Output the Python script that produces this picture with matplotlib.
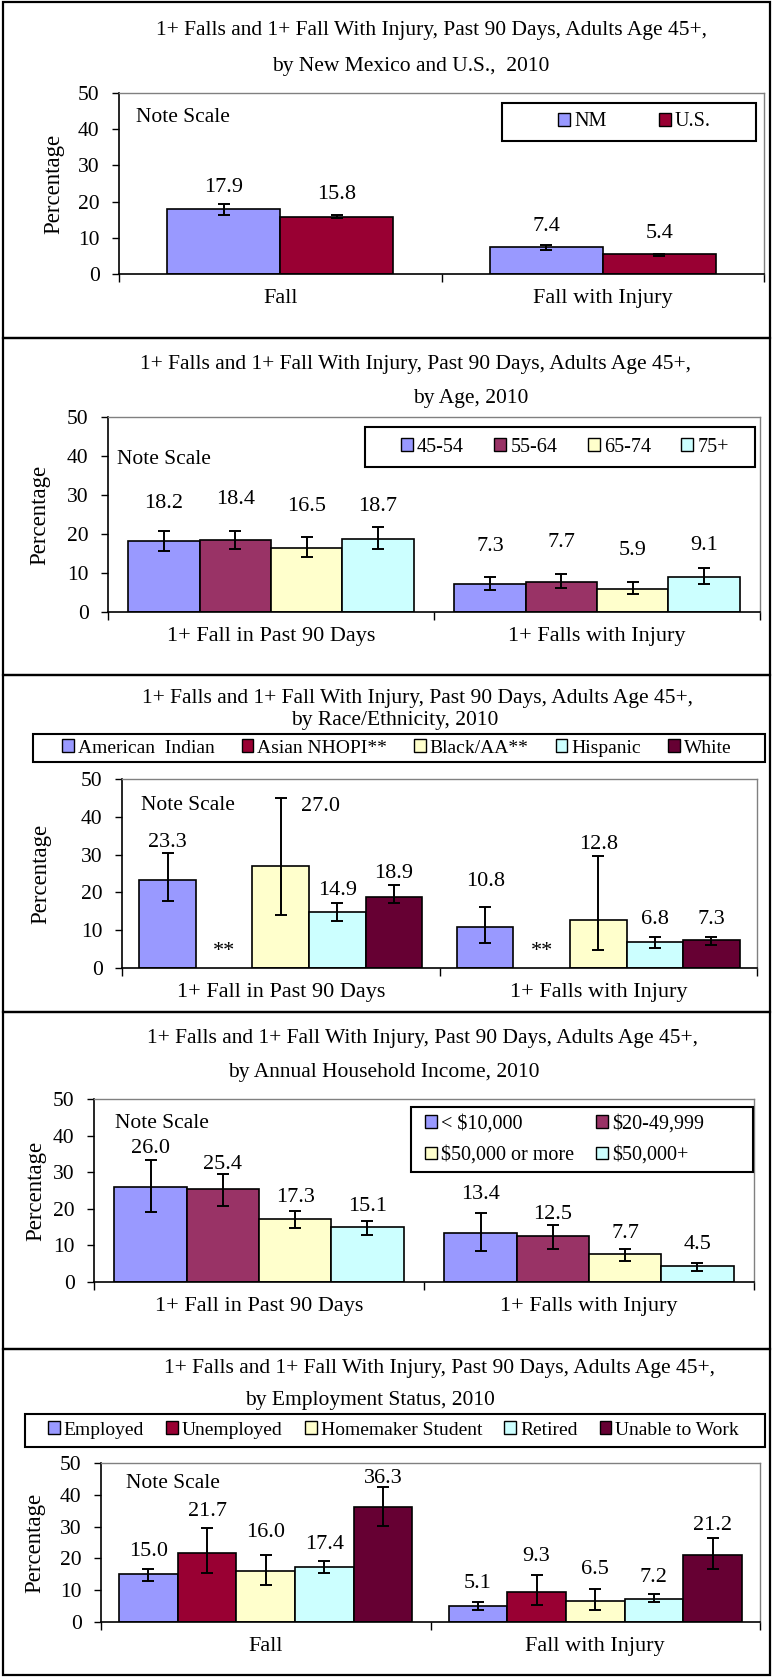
import numpy as np
import matplotlib
matplotlib.use("Agg")
import matplotlib.pyplot as plt
from matplotlib.patches import Patch, Rectangle

# ── Data ─────────────────────────────────────────────────────────────────────
nan = np.nan

GROUPS_SHORT = ["Fall", "Fall with Injury"]
GROUPS_LONG = ["1+ Fall in Past 90 Days", "1+ Falls with Injury"]

TITLE_TOP = "1+ Falls and 1+ Fall With Injury, Past 90 Days, Adults Age 45+,"

STATE_LABELS = ["NM", "U.S."]
STATE_VALUES = [[17.9, 7.4], [15.8, 5.4]]
STATE_LOW = [[16.4, 6.6], [15.4, 5.0]]
STATE_HIGH = [[19.2, 8.1], [16.2, 5.6]]

AGE_LABELS = ["45-54", "55-64", "65-74", "75+"]
AGE_VALUES = [[18.2, 7.3], [18.4, 7.7], [16.5, 5.9], [18.7, 9.1]]
AGE_LOW = [[15.7, 5.6], [16.2, 6.2], [14.1, 4.5], [16.2, 7.1]]
AGE_HIGH = [[20.7, 9.1], [20.7, 9.7], [19.2, 7.6], [21.8, 11.2]]

RACE_LABELS = ["American  Indian", "Asian NHOPI**", "Black/AA**", "Hispanic", "White"]
RACE_VALUES = [[23.3, 10.8], [nan, nan], [27.0, 12.8], [14.9, 6.8], [18.9, 7.3]]
RACE_LOW = [[17.8, 6.7], [nan, nan], [14.0, 4.7], [12.5, 5.2], [17.3, 6.1]]
RACE_HIGH = [[30.3, 16.2], [nan, nan], [44.9, 29.7], [17.2, 8.3], [21.9, 8.3]]

INCOME_LABELS = ["< $10,000", "$20-49,999", "$50,000 or more", "$50,000+"]
INCOME_VALUES = [[26.0, 13.4], [25.4, 12.5], [17.3, 7.7], [15.1, 4.5]]
INCOME_LOW = [[19.2, 8.4], [20.8, 9.0], [14.8, 5.7], [12.8, 3.0]]
INCOME_HIGH = [[33.3, 18.8], [29.5, 15.5], [19.3, 9.0], [16.6, 5.3]]

EMPLOY_LABELS = ["Employed", "Unemployed", "Homemaker Student", "Retired", "Unable to Work"]
EMPLOY_VALUES = [[15.0, 5.1], [21.7, 9.3], [16.0, 6.5], [17.4, 7.2], [36.3, 21.2]]
EMPLOY_LOW = [[13.0, 3.8], [15.4, 5.5], [11.7, 3.8], [15.4, 6.3], [30.2, 16.7]]
EMPLOY_HIGH = [[16.7, 6.2], [29.6, 14.8], [21.1, 10.5], [19.2, 8.7], [42.5, 26.4]]

# ── Colours (Excel 2003 palette) ─────────────────────────────────────────────
PERI = "#9999FF"
CRIMSON = "#990033"
PLUM = "#993366"
CREAM = "#FFFFCC"
ICE = "#CCFFFF"
MAROON = "#660033"

# ── Layout, all in pixels of the 773x1677 canvas ─────────────────────────────
W, H = 773, 1677
plt.rcParams["font.family"] = ["Liberation Serif", "DejaVu Serif"]


def fx(px):
    return px / W


def fy(py):
    return 1 - py / H


def draw_panel(fig, lay, groups, labels, values, low, high, colors):
    top, bottom = lay["frame"]
    fig.add_artist(Rectangle((fx(3), fy(bottom)), fx(770) - fx(3), fy(top) - fy(bottom),
                             transform=fig.transFigure, fill=False, ec="black", lw=1.6))
    for text, x, y in lay["title"]:
        fig.text(fx(x), fy(y), text, ha="center", va="center", fontsize=15.5)

    l, t, r, b = lay["axes"]
    ax = fig.add_axes([fx(l), fy(b), fx(r) - fx(l), fy(t) - fy(b)])

    values = np.array(values, float)
    low = np.array(low, float)
    high = np.array(high, float)
    n = len(labels)
    width = lay["group"] / n
    x = np.arange(len(groups))
    label_dx = lay.get("label_dx", {})

    for i in range(n):
        pos = x + (i - (n - 1) / 2) * width
        v = values[i]
        ok = ~np.isnan(v)
        if ok.any():
            ax.bar(pos[ok], v[ok], width, color=colors[i], edgecolor="black",
                   linewidth=1.2, zorder=2)
            err = [v[ok] - low[i][ok], high[i][ok] - v[ok]]
            ax.errorbar(pos[ok], v[ok], yerr=err, fmt="none", ecolor="black",
                        elinewidth=1.4, capsize=4, capthick=1.4, zorder=3)
        for j in range(len(groups)):
            if ok[j]:
                ax.text(pos[j] + label_dx.get((i, j), 0), lay["label_y"][i][j], f"{v[j]:.1f}",
                        ha="center", va="center", fontsize=16)
            else:
                ax.text(pos[j], 3.3, "**", ha="center", va="baseline", fontsize=16)

    ax.set_xlim(-0.5, len(groups) - 0.5)
    ax.set_ylim(0, 50)
    ax.set_yticks(range(0, 51, 10))
    ax.set_xticks(np.arange(len(groups) + 1) - 0.5)
    ax.set_xticklabels([])
    ax.set_xticks(x, minor=True)
    ax.set_xticklabels(groups, minor=True, fontsize=16)
    ax.tick_params(axis="x", which="minor", length=0, pad=11)
    ax.tick_params(axis="x", which="major", length=6, width=1, direction="out")
    ax.tick_params(axis="y", length=5, width=1, pad=9, labelsize=15.5)
    for s in ("top", "right"):
        ax.spines[s].set_color("#808080")
        ax.spines[s].set_linewidth(1)
    for s in ("left", "bottom"):
        ax.spines[s].set_linewidth(1.2)

    ax.set_ylabel("Percentage", fontsize=16.5)
    ax.yaxis.label.set_va("center")
    ax.yaxis.set_label_coords((lay["ylabel_x"] - l) / (r - l), 0.5)

    nx, ny = lay["note"]
    fig.text(fx(nx), fy(ny), "Note Scale", ha="left", va="center", fontsize=15.5)

    handles = [Patch(facecolor=c, edgecolor="black", linewidth=1) for c in colors]
    order = lay.get("order", list(range(n)))
    lx, ly = lay["legend_at"]
    fig.legend([handles[k] for k in order], [labels[k] for k in order],
               loc="center left", bbox_to_anchor=(fx(lx), fy(ly)), ncol=lay["ncol"],
               frameon=False, fontsize=lay.get("legend_fs", 14.5), handlelength=0.6,
               handleheight=0.6, handletextpad=0.2, columnspacing=lay["colspace"],
               borderpad=0, borderaxespad=0, labelspacing=0.6)
    bl, bt, br, bb = lay["legend_box"]
    fig.add_artist(Rectangle((fx(bl), fy(bb)), fx(br) - fx(bl), fy(bt) - fy(bb),
                             transform=fig.transFigure, fill=False, ec="black", lw=1.5))
    return ax


LAYOUT_STATE = dict(
    frame=(2, 338), axes=(119, 93, 764, 274),
    title=[(TITLE_TOP, 431, 30), ("by New Mexico and U.S.,  2010", 411, 66)],
    note=(136, 117), ylabel_x=54,
    legend_box=(502, 103, 756, 141), legend_at=(558, 122), ncol=2, colspace=2.6,
    group=0.70, label_y=[[24.0, 13.1], [21.9, 11.3]],
)
LAYOUT_AGE = dict(
    frame=(338, 675), axes=(108, 417, 760, 612),
    title=[(TITLE_TOP, 415, 365), ("by Age, 2010", 471, 398)],
    note=(117, 460), ylabel_x=40,
    legend_box=(365, 427, 755, 467), legend_at=(401, 447), ncol=4, colspace=1.5,
    group=0.875, label_y=[[27.9, 16.8], [28.8, 17.7], [27.1, 15.8], [27.1, 17.0]],
)
LAYOUT_RACE = dict(
    frame=(675, 1012), axes=(122, 779, 757, 968),
    title=[(TITLE_TOP, 418, 698), ("by Race/Ethnicity, 2010", 395, 721)],
    note=(141, 806), ylabel_x=41,
    legend_box=(33, 734, 765, 762), legend_at=(62, 748), ncol=5, colspace=1.4, legend_fs=14,
    group=0.89, label_y=[[33.3, 22.8], [0, 0], [42.7, 32.6], [20.6, 12.7], [24.9, 12.8]],
    label_dx={(2, 0): 0.126},
)
LAYOUT_INCOME = dict(
    frame=(1012, 1349), axes=(94, 1099, 754, 1282),
    title=[(TITLE_TOP, 423, 1038), ("by Annual Household Income, 2010", 384, 1072)],
    note=(115, 1123), ylabel_x=36,
    legend_box=(411, 1107, 753, 1172), legend_at=(425, 1140), ncol=2, colspace=1.1,
    order=[0, 2, 1, 3],
    group=0.876, label_y=[[36.4, 23.9], [32.2, 18.5], [23.0, 13.3], [20.7, 10.2]],
)
LAYOUT_EMPLOY = dict(
    frame=(1349, 1675), axes=(101, 1463, 760, 1622),
    title=[(TITLE_TOP, 440, 1368), ("by Employment Status, 2010", 370, 1401)],
    note=(126, 1483), ylabel_x=35,
    legend_box=(25, 1414, 765, 1447), legend_at=(48, 1430), ncol=5, colspace=1.15, legend_fs=14,
    group=0.89, label_y=[[22.1, 12.0], [34.7, 20.6], [28.1, 16.6], [24.5, 14.1], [45.1, 30.5]],
)


# ── Main ─────────────────────────────────────────────────────────────────────
fig = plt.figure(figsize=(W / 100, H / 100), dpi=100)

draw_panel(fig, LAYOUT_STATE, GROUPS_SHORT, STATE_LABELS, STATE_VALUES, STATE_LOW, STATE_HIGH,
           [PERI, CRIMSON])
draw_panel(fig, LAYOUT_AGE, GROUPS_LONG, AGE_LABELS, AGE_VALUES, AGE_LOW, AGE_HIGH,
           [PERI, PLUM, CREAM, ICE])
draw_panel(fig, LAYOUT_RACE, GROUPS_LONG, RACE_LABELS, RACE_VALUES, RACE_LOW, RACE_HIGH,
           [PERI, CRIMSON, CREAM, ICE, MAROON])
draw_panel(fig, LAYOUT_INCOME, GROUPS_LONG, INCOME_LABELS, INCOME_VALUES, INCOME_LOW, INCOME_HIGH,
           [PERI, PLUM, CREAM, ICE])
draw_panel(fig, LAYOUT_EMPLOY, GROUPS_SHORT, EMPLOY_LABELS, EMPLOY_VALUES, EMPLOY_LOW, EMPLOY_HIGH,
           [PERI, CRIMSON, CREAM, ICE, MAROON])

fig.savefig("out.png", dpi=100)
plt.close(fig)
